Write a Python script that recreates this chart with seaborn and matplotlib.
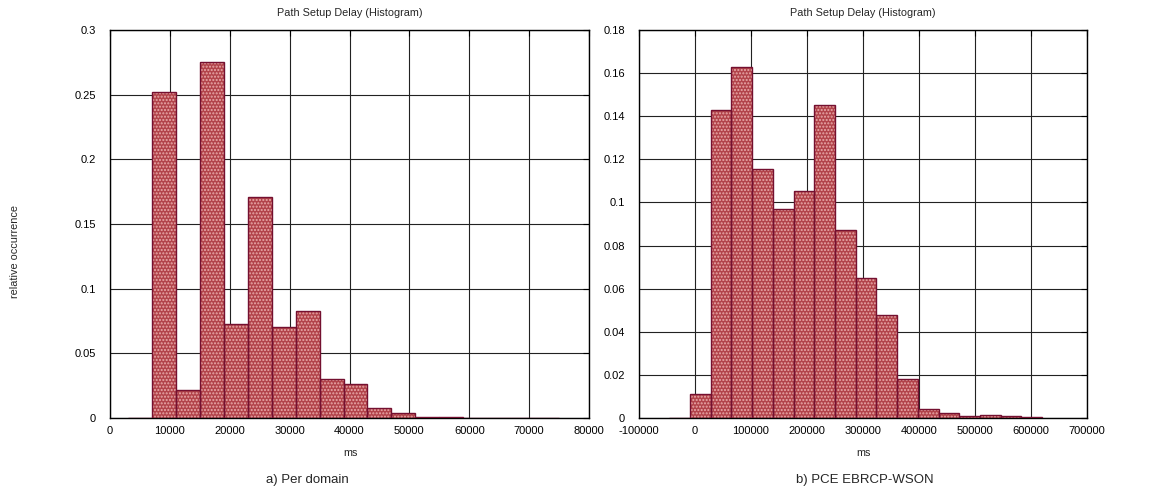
import numpy as np
import seaborn as sns
import matplotlib.pyplot as plt
import matplotlib.ticker as ticker

# Panel a) per domain: bin edges (ms) and relative occurrence per bin
domain_edges = [3000, 7000, 11000, 15000, 19000, 23000, 27000, 31000, 35000,
                39000, 43000, 47000, 51000, 55000, 59000, 63000, 67000, 71000, 75000]
domain_freq = [0.0002, 0.252, 0.022, 0.275, 0.073, 0.171, 0.070, 0.083, 0.030,
               0.026, 0.008, 0.004, 0.001, 0.0008, 0.0003, 0.0003, 0.0003, 0.0003]

# Panel b) PCE EBRCP-WSON
pce_edges = [-46000, -9000, 28000, 65000, 102000, 139000, 176000, 213000, 250000,
             287000, 324000, 361000, 398000, 435000, 472000, 509000, 546000, 583000, 620000]
pce_freq = [0.0002, 0.011, 0.143, 0.163, 0.1155, 0.097, 0.1055, 0.145, 0.087,
            0.065, 0.048, 0.018, 0.004, 0.0022, 0.0008, 0.0012, 0.0008, 0.0004]

FILL = '#b2434a'
DOTS = '#e9aaaa'
EDGE = '#741030'


def plot_hist(ax, edges, freq):
    centers = [(a + b) / 2 for a, b in zip(edges[:-1], edges[1:])]
    # fill with a light dot pattern, then the dark outline on top
    sns.histplot(x=centers, weights=freq, bins=edges, ax=ax, stat='count',
                 color=FILL, alpha=1, edgecolor=DOTS, linewidth=0, zorder=2)
    for p in ax.patches:
        p.set_hatch('.....')
    n = len(ax.patches)
    sns.histplot(x=centers, weights=freq, bins=edges, ax=ax, stat='count',
                 fill=False, color=EDGE, linewidth=1.0, zorder=3)
    for p in ax.patches[n:]:
        p.set_edgecolor(EDGE)


def style_axes(ax, xlim, xstep, ylim, ystep):
    ax.set_xlim(*xlim)
    ax.set_ylim(*ylim)
    ax.xaxis.set_major_locator(ticker.MultipleLocator(xstep))
    ax.yaxis.set_major_locator(ticker.MultipleLocator(ystep))
    ax.xaxis.set_major_formatter(ticker.FuncFormatter(lambda v, p: '%g' % round(v)))
    ax.yaxis.set_major_formatter(ticker.FuncFormatter(lambda v, p: '%g' % round(v, 4)))
    ax.grid(True, color='#222222', linewidth=0.8, zorder=0)
    ax.set_axisbelow(True)
    ax.tick_params(direction='in', length=4, width=0.8, top=True, right=True,
                   labelsize=8, colors='black')
    ax.tick_params(axis='y', pad=10)
    ax.tick_params(axis='x', pad=6)
    for s in ax.spines.values():
        s.set_color('black')
        s.set_linewidth(1.0)
        s.set_visible(True)
    ax.set_xlabel('')
    ax.set_ylabel('')


def main():
    sns.set_style('white')
    plt.rcParams['font.family'] = ['Liberation Sans', 'DejaVu Sans']
    plt.rcParams['hatch.linewidth'] = 1.0

    W, H = 1152, 490
    fig = plt.figure(figsize=(W / 100, H / 100), dpi=100)
    ax1 = fig.add_axes([110 / W, (H - 418) / H, 479 / W, 388 / H])
    ax2 = fig.add_axes([639 / W, (H - 418) / H, 448 / W, 388 / H])

    plot_hist(ax1, domain_edges, domain_freq)
    style_axes(ax1, (0, 80000), 10000, (0, 0.3), 0.05)
    plot_hist(ax2, pce_edges, pce_freq)
    style_axes(ax2, (-100000, 700000), 100000, (0, 0.18), 0.02)

    for ax, cx in ((ax1, 350), (ax2, 863)):
        fig.text(cx / W, 1 - 13 / H, 'Path Setup Delay (Histogram)',
                 ha='center', va='center', fontsize=7.8)
        fig.text(cx / W, 1 - 453 / H, 'ms', ha='center', va='center', fontsize=7.8)

    fig.text(307 / W, 1 - 480 / H, 'a) Per domain', ha='center', va='center', fontsize=9.5)
    fig.text(865 / W, 1 - 480 / H, 'b) PCE EBRCP-WSON', ha='center', va='center', fontsize=9.5)
    fig.text(15 / W, 1 - 252 / H, 'relative occurrence', rotation=90,
             ha='center', va='center', fontsize=7.8)

    fig.savefig('out.png', dpi=100)


if __name__ == "__main__":
    main()
